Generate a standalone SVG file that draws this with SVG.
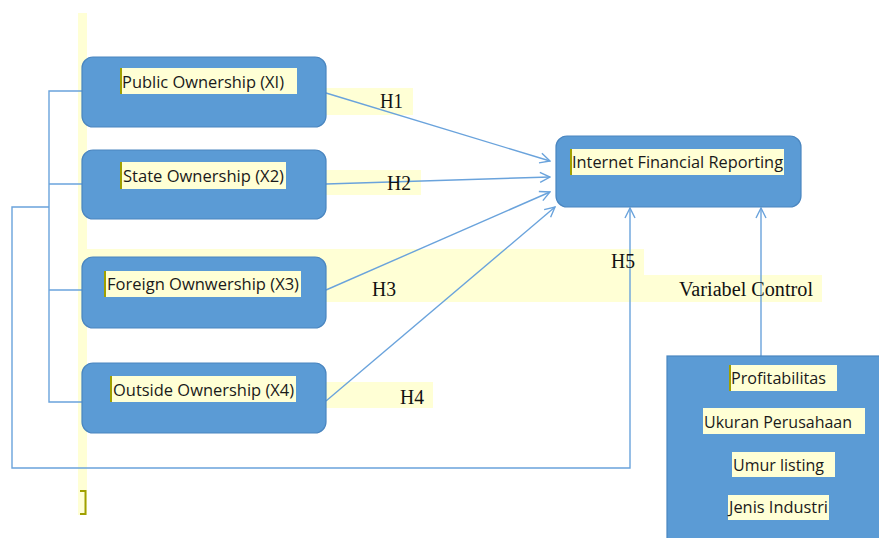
<svg xmlns="http://www.w3.org/2000/svg" width="879" height="538" viewBox="0 0 879 538">
<defs>
<style>
.box{fill:#5b9bd5;stroke:#4a86c0;stroke-width:1.2}
.hl{fill:#ffffd5}
.bar{fill:#a0a000}
.lbl{font-family:"Open Sans","Liberation Sans",Arial,sans-serif;font-size:16px;fill:#1a1a1a}
.h{font-family:"Liberation Serif","Times New Roman",serif;font-size:20px;fill:#111}
.ln{fill:none;stroke:#6aa3dc;stroke-width:1.4}
</style>
<marker id="arr" markerWidth="12" markerHeight="12" viewBox="0 0 12 12" refX="11" refY="6" orient="auto" markerUnits="userSpaceOnUse">
<path d="M1,1 L11,6 L1,11" fill="none" stroke="#6aa3dc" stroke-width="1.4"/>
</marker>
</defs>
<rect width="879" height="538" fill="#ffffff"/>
<g id="background">
<rect class="hl" x="78" y="13" width="9" height="502"/>
<rect class="hl" x="87" y="249" width="557" height="27"/>
<rect class="hl" x="87" y="275" width="735" height="27"/>
<rect class="hl" x="326" y="88" width="87" height="27"/>
<rect class="hl" x="326" y="170" width="95" height="25"/>
<rect class="hl" x="326" y="382" width="107" height="26"/>
<path d="M80,491 H85.5 V514 H80" fill="none" stroke="#a0a000" stroke-width="2"/>
</g>
<g id="connectors">
<polyline class="ln" points="82,91 49,91 49,402 82,402"/>
<line class="ln" x1="49" y1="184" x2="82" y2="184"/>
<line class="ln" x1="49" y1="290" x2="82" y2="290"/>
<polyline class="ln" points="49,207 12,207 12,468 630,468 630,208" marker-end="url(#arr)"/>
<line class="ln" x1="326" y1="93" x2="550" y2="161" marker-end="url(#arr)"/>
<line class="ln" x1="326" y1="184" x2="550" y2="177" marker-end="url(#arr)"/>
<line class="ln" x1="326" y1="290" x2="550" y2="192" marker-end="url(#arr)"/>
<line class="ln" x1="326" y1="401" x2="555" y2="207" marker-end="url(#arr)"/>
<line class="ln" x1="761" y1="356" x2="761" y2="208" marker-end="url(#arr)"/>
</g>
<g id="labels">
<text class="h" x="380" y="108" textLength="23" lengthAdjust="spacingAndGlyphs">H1</text>
<text class="h" x="387" y="190" textLength="24" lengthAdjust="spacingAndGlyphs">H2</text>
<text class="h" x="372" y="296" textLength="24" lengthAdjust="spacingAndGlyphs">H3</text>
<text class="h" x="400" y="404" textLength="24" lengthAdjust="spacingAndGlyphs">H4</text>
<text class="h" x="611" y="268" textLength="24" lengthAdjust="spacingAndGlyphs">H5</text>
<text class="h" x="679" y="296" textLength="134" lengthAdjust="spacingAndGlyphs">Variabel Control</text>
</g>
<g id="public">
<rect class="box" x="82" y="57" width="244" height="70" rx="11"/>
<rect class="hl" x="120" y="68" width="177" height="26"/>
<rect class="bar" x="120" y="68" width="2" height="26"/>
<text class="lbl" x="122" y="88" textLength="162" lengthAdjust="spacingAndGlyphs">Public Ownership (XI)</text>
</g>
<g id="state">
<rect class="box" x="82" y="150" width="244" height="69" rx="11"/>
<rect class="hl" x="120" y="162" width="166" height="27"/>
<rect class="bar" x="120" y="162" width="2" height="27"/>
<text class="lbl" x="123" y="182" textLength="161" lengthAdjust="spacingAndGlyphs">State Ownership (X2)</text>
</g>
<g id="foreign">
<rect class="box" x="82" y="257" width="244" height="71" rx="11"/>
<rect class="hl" x="104" y="271" width="197" height="26"/>
<rect class="bar" x="104" y="271" width="2" height="26"/>
<text class="lbl" x="107" y="290" textLength="192" lengthAdjust="spacingAndGlyphs">Foreign Ownwership (X3)</text>
</g>
<g id="outside">
<rect class="box" x="82" y="363" width="244" height="70" rx="11"/>
<rect class="hl" x="110" y="376" width="186" height="26"/>
<rect class="bar" x="110" y="376" width="2" height="26"/>
<text class="lbl" x="113" y="396" textLength="181" lengthAdjust="spacingAndGlyphs">Outside Ownership (X4)</text>
</g>
<g id="ifr">
<rect class="box" x="556" y="136" width="245" height="71" rx="11"/>
<rect class="hl" x="570" y="149" width="214" height="26"/>
<rect class="bar" x="570" y="149" width="2" height="26"/>
<text class="lbl" x="572" y="168" textLength="211" lengthAdjust="spacingAndGlyphs">Internet Financial Reporting</text>
</g>
<g id="control">
<rect class="box" x="667" y="356" width="215" height="185"/>
<rect class="hl" x="729" y="365" width="108" height="26"/>
<rect class="bar" x="729" y="365" width="2" height="26"/>
<text class="lbl" x="731" y="384" textLength="95" lengthAdjust="spacingAndGlyphs">Profitabilitas</text>
<rect class="hl" x="703" y="408" width="162" height="26"/>
<text class="lbl" x="704" y="428" textLength="148" lengthAdjust="spacingAndGlyphs">Ukuran Perusahaan</text>
<rect class="hl" x="732" y="452" width="103" height="25"/>
<text class="lbl" x="733" y="471" textLength="91" lengthAdjust="spacingAndGlyphs">Umur listing</text>
<rect class="hl" x="728" y="495" width="101" height="25"/>
<text class="lbl" x="729" y="513" textLength="99" lengthAdjust="spacingAndGlyphs">Jenis Industri</text>
</g>
</svg>
